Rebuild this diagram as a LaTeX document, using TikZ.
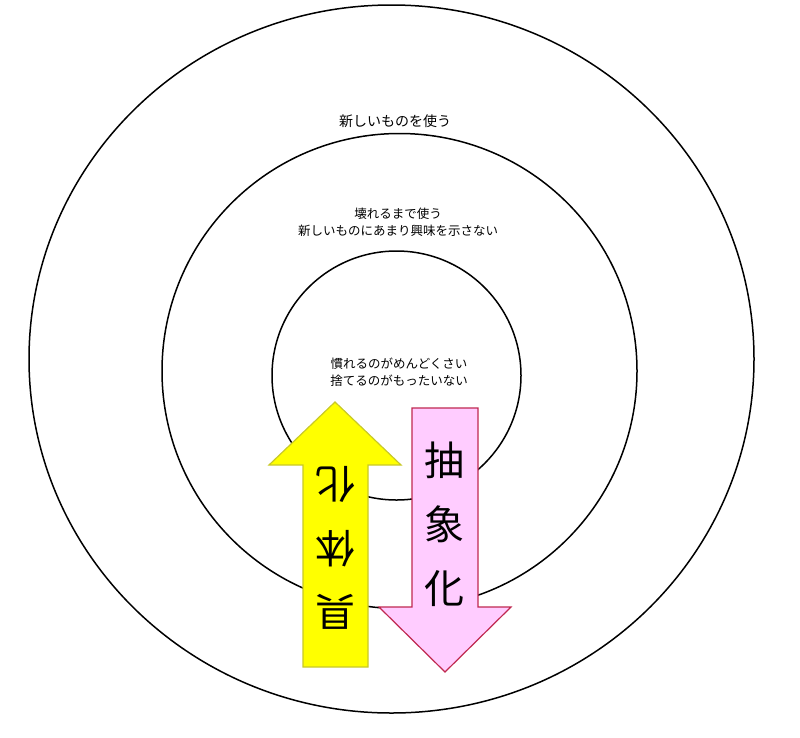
\documentclass[tikz,border=0pt]{standalone}
\usepackage{fontspec}
\newfontfamily\jp{Noto Sans CJK JP}
\definecolor{yfill}{RGB}{255,255,0}
\definecolor{yline}{RGB}{200,200,40}
\definecolor{pfill}{RGB}{255,204,255}
\definecolor{pline}{RGB}{192,40,80}
\begin{document}
\begin{tikzpicture}[x=1pt,y=-1pt,
  ring/.style={draw=black,line width=1.5pt},
  small/.style={font=\jp\fontsize{12.5}{17}\selectfont,align=center,inner sep=0pt},
  big/.style={font=\jp\fontsize{40}{64}\selectfont,align=center,inner sep=0pt},
  uparrow/.style={fill=yfill,draw=yline,line width=1.2pt,line join=miter},
  downarrow/.style={fill=pfill,draw=pline,line width=1.2pt,line join=miter}]
\useasboundingbox[fill=white] (0,0) rectangle (800,737);
\draw[ring] (391.5,359) ellipse [x radius=362.5pt, y radius=354pt];
\draw[ring] (399.5,371) circle [radius=237.5pt];
\draw[ring] (396.5,375.5) circle [radius=124.5pt];
% arrows
\draw[uparrow] (303,667) -- (303,465) -- (269,465) -- (335,402) -- (401,465) -- (368,465) -- (368,667) -- cycle;
\draw[downarrow] (412,408) -- (478,408) -- (478,607) -- (511,607) -- (445,672) -- (379,607) -- (412,607) -- cycle;
% labels
\node[small,font=\jp\fontsize{14}{17}\selectfont] (outer) at (395,121) {新しいものを使う};
\node[small] (middle) at (398,222) {壊れるまで使う\\新しいものにあまり興味を示さない};
\node[small] (inner) at (399,372) {慣れるのがめんどくさい\\捨てるのがもったいない};
\node[big] (abstract) at (444,524) {抽\\象\\化};
\node[big,rotate=180] (concrete) at (335,548) {具\\体\\化};
\end{tikzpicture}
\end{document}
